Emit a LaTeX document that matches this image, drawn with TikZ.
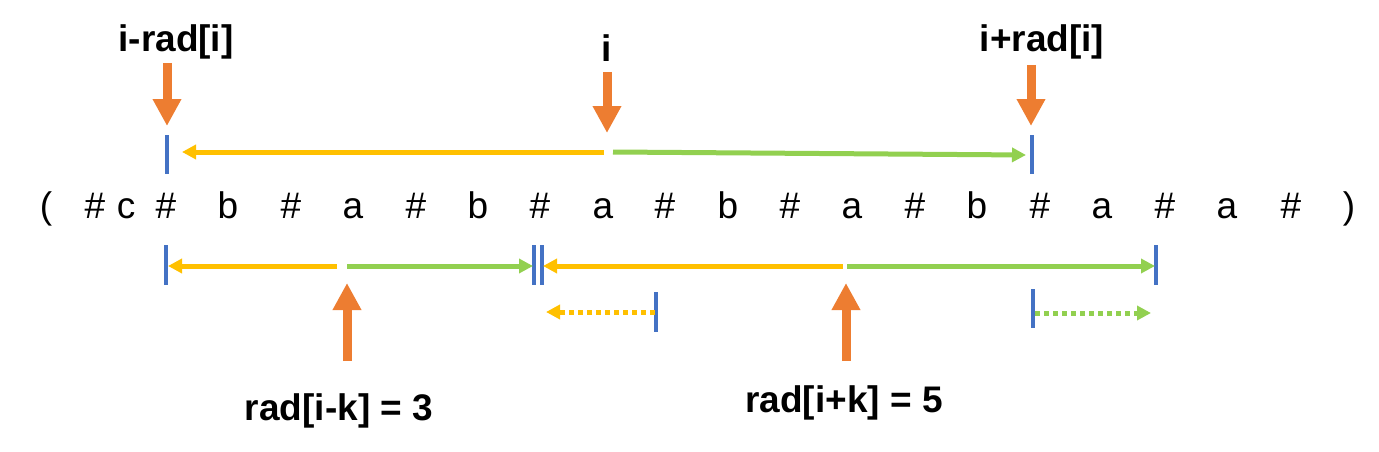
\documentclass[tikz,border=0pt]{standalone}
\usepackage{fontspec}
\setmainfont{Liberation Sans}
\usetikzlibrary{arrows.meta}
\definecolor{orng}{HTML}{ED7D31}
\definecolor{ylw}{HTML}{FFC000}
\definecolor{grn}{HTML}{92D050}
\definecolor{blu}{HTML}{4472C4}
\tikzset{
  ch/.style={font=\fontsize{37}{44}\selectfont, anchor=base, inner sep=0pt},
  lab/.style={font=\fontsize{37}{44}\selectfont\bfseries, anchor=base, inner sep=0pt},
  tickline/.style={blu, line width=3.5pt},
  yarr/.style={ylw, line width=5pt, -{Triangle[length=14pt,width=14pt]}},
  garr/.style={grn, line width=5pt, -{Triangle[length=14pt,width=14pt]}},
  dots/.style={dash pattern=on 5pt off 4pt},
  bigarr/.style={orng, line width=9pt, -{Triangle[length=27pt,width=27pt]}}
}
\begin{document}
\begin{tikzpicture}[x=1pt,y=-1pt]
\useasboundingbox (0,0) rectangle (1379,452);
% character row
\node[ch] (c1) at (46,218) {(};
\node[ch] (c2) at (95,218) {\#};
\node[ch] (c3) at (126,218) {c};
\node[ch] (c4) at (166,218) {\#};
\node[ch] (c5) at (228,218) {b};
\node[ch] (c6) at (291,218) {\#};
\node[ch] (c7) at (353,218) {a};
\node[ch] (c8) at (416,218) {\#};
\node[ch] (c9) at (478,218) {b};
\node[ch] (c10) at (540,218) {\#};
\node[ch] (c11) at (603,218) {a};
\node[ch] (c12) at (665,218) {\#};
\node[ch] (c13) at (728,218) {b};
\node[ch] (c14) at (790,218) {\#};
\node[ch] (c15) at (852,218) {a};
\node[ch] (c16) at (915,218) {\#};
\node[ch] (c17) at (977,218) {b};
\node[ch] (c18) at (1040,218) {\#};
\node[ch] (c19) at (1102,218) {a};
\node[ch] (c20) at (1165,218) {\#};
\node[ch] (c21) at (1227,218) {a};
\node[ch] (c22) at (1291,218) {\#};
\node[ch] (c23) at (1349,218) {)};
% labels
\node[lab] (lL) at (176,52) {i-rad[i]};
\node[lab] (lC) at (607,62) {i};
\node[lab] (lR) at (1042,52) {i+rad[i]};
\node[lab] (lK1) at (339,420) {rad[i-k] = 3};
\node[lab] (lK2) at (844,412) {rad[i+k] = 5};
% orange pointer arrows
\coordinate (oL1) at (167,63);   \coordinate (oL2) at (167,126);
\coordinate (oC1) at (607,72);   \coordinate (oC2) at (607,133);
\coordinate (oR1) at (1031,65);  \coordinate (oR2) at (1031,126);
\coordinate (uL1) at (347,361);  \coordinate (uL2) at (347,283);
\coordinate (uR1) at (846,361);  \coordinate (uR2) at (846,283);
\draw[bigarr] (oL1) -- (oL2);
\draw[bigarr] (oC1) -- (oC2);
\draw[bigarr] (oR1) -- (oR2);
\draw[bigarr] (uL1) -- (uL2);
\draw[bigarr] (uR1) -- (uR2);
% top ticks and arrows
\coordinate (tL1) at (167,135); \coordinate (tL2) at (167,174);
\coordinate (tR1) at (1032,135); \coordinate (tR2) at (1032,174);
\draw[tickline] (tL1) -- (tL2);
\draw[tickline] (tR1) -- (tR2);
\coordinate (ty0) at (604,152); \coordinate (ty1) at (182,152);
\coordinate (tg0) at (613,152); \coordinate (tg1) at (1026,155);
\draw[yarr] (ty0) -- (ty1);
\draw[garr] (tg0) -- (tg1);
% bottom ticks
\coordinate (b1a) at (166,245);  \coordinate (b1b) at (166,285);
\coordinate (b2a) at (534,245);  \coordinate (b2b) at (534,285);
\coordinate (b3a) at (542,245);  \coordinate (b3b) at (542,285);
\coordinate (b4a) at (1156,245); \coordinate (b4b) at (1156,285);
\draw[tickline] (b1a) -- (b1b);
\draw[tickline] (b2a) -- (b2b);
\draw[tickline] (b3a) -- (b3b);
\draw[tickline] (b4a) -- (b4b);
% bottom arrows
\coordinate (by1s) at (337,266); \coordinate (by1e) at (168,266);
\coordinate (bg1s) at (347,266); \coordinate (bg1e) at (533,266);
\coordinate (by2s) at (843,266); \coordinate (by2e) at (543,266);
\coordinate (bg2s) at (847,266); \coordinate (bg2e) at (1155,266);
\draw[yarr] (by1s) -- (by1e);
\draw[garr] (bg1s) -- (bg1e);
\draw[yarr] (by2s) -- (by2e);
\draw[garr] (bg2s) -- (bg2e);
% dotted arrows
\coordinate (dt1a) at (656,292); \coordinate (dt1b) at (656,332);
\coordinate (dt2a) at (1033,289); \coordinate (dt2b) at (1033,328);
\draw[tickline] (dt1a) -- (dt1b);
\draw[tickline] (dt2a) -- (dt2b);
\coordinate (dys) at (655,312); \coordinate (dye) at (546,312);
\coordinate (dgs) at (1035,313); \coordinate (dge) at (1151,313);
\draw[yarr,dots] (dys) -- (dye);
\draw[garr,dots] (dgs) -- (dge);
\end{tikzpicture}
\end{document}
